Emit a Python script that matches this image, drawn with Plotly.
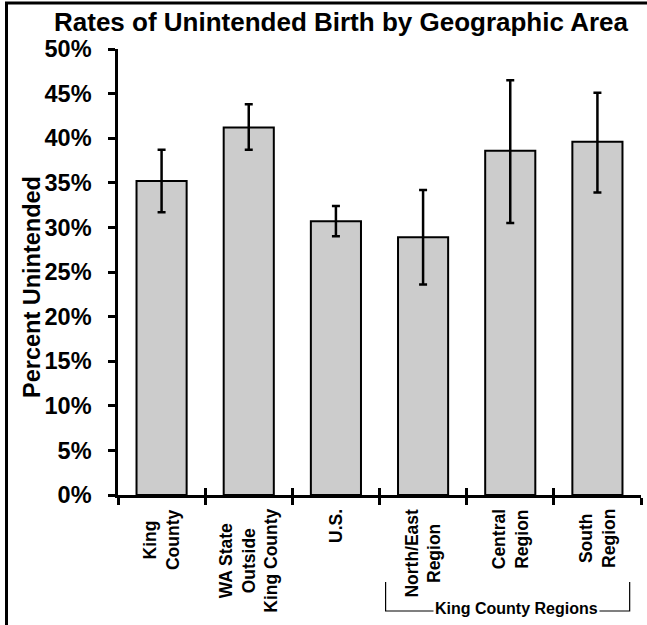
import plotly.graph_objects as go

categories = ["King<br>County", "WA State<br>Outside<br>King County", "U.S.",
              "North/East<br>Region", "Central<br>Region", "South<br>Region"]
values = [35.2, 41.2, 30.7, 28.9, 38.6, 39.6]
err_upper = [38.7, 43.8, 32.4, 34.2, 46.5, 45.1]
err_lower = [31.7, 38.7, 29.0, 23.6, 30.5, 33.9]
y_ticks = [0, 5, 10, 15, 20, 25, 30, 35, 40, 45, 50]
y_tick_text = [f"{v}%" for v in y_ticks]
group_label = "King County Regions"
group_members = [3, 4, 5]

W, H = 647, 625
ML, MR, MT, MB = 118, 6, 49, 130
PW = W - ML - MR
PH = H - MT - MB

FONT = "Liberation Sans, Arial, sans-serif"
x_idx = list(range(len(categories)))
plus = [u - v for u, v in zip(err_upper, values)]
minus = [v - l for v, l in zip(values, err_lower)]

fig = go.Figure()
fig.add_trace(go.Bar(
    x=x_idx, y=values, width=0.575,
    marker=dict(color="#cccccc", line=dict(color="black", width=2)),
    error_y=dict(type="data", symmetric=False, array=plus, arrayminus=minus,
                 color="black", thickness=2.5, width=4),
    showlegend=False, hoverinfo="skip",
))
# invisible trace to carry the second (tick-only) x axis
fig.add_trace(go.Scatter(x=[x_idx[0]], y=[0], xaxis="x2", mode="markers",
                         marker=dict(opacity=0), showlegend=False, hoverinfo="skip"))

bounds = [i - 0.5 for i in range(len(categories) + 1)]
xr = [-0.5, len(categories) - 0.5]

def px_to_px(px):
    return (px - ML) / PW

def py_to_py(py):
    return (MT + PH - py) / PH

annotations = []
for i, lab in enumerate(categories):
    annotations.append(dict(
        x=i, y=0, xref="x", yref="paper", text=lab, showarrow=False,
        textangle=-90, xanchor="center", yanchor="top", yshift=-12, align="center",
        font=dict(family=FONT, size=17.5, color="black", weight="bold")))

annotations.append(dict(
    x=px_to_px(32), y=py_to_py(287), xref="paper", yref="paper",
    text="Percent Unintended", showarrow=False, textangle=-90,
    xanchor="center", yanchor="middle",
    font=dict(family=FONT, size=23.5, color="black", weight="bold")))

# group bracket
gx0 = group_members[0] - 0.43
gx1 = group_members[-1] + 0.37
gy_top = py_to_py(582)
gy_bot = py_to_py(611)
shapes = [
    dict(type="path", xref="x", yref="paper",
         path=f"M {gx0},{gy_top} L {gx0},{gy_bot} L {gx1},{gy_bot} L {gx1},{gy_top}",
         line=dict(color="black", width=1.2)),
    # outer frame (left and top)
    dict(type="line", xref="paper", yref="paper", x0=px_to_px(6.5), x1=px_to_px(6.5),
         y0=py_to_py(2), y1=py_to_py(H + 5), line=dict(color="black", width=3)),
    dict(type="line", xref="paper", yref="paper", x0=px_to_px(5), x1=px_to_px(W + 5),
         y0=py_to_py(3), y1=py_to_py(3), line=dict(color="black", width=3)),
]
annotations.append(dict(
    x=(group_members[0] + group_members[-1]) / 2 + 0.075, y=py_to_py(608),
    xref="x", yref="paper", text=group_label, showarrow=False,
    xanchor="center", yanchor="middle", bgcolor="white", borderpad=1,
    font=dict(family=FONT, size=16, color="black", weight="bold")))

fig.update_layout(
    width=W, height=H,
    margin=dict(l=ML, r=MR, t=MT, b=MB, pad=0),
    paper_bgcolor="white", plot_bgcolor="white",
    title=dict(text="Rates of Unintended Birth by Geographic Area",
               x=341 / W, xref="container", xanchor="center",
               y=1 - 22 / H, yref="container", yanchor="middle",
               font=dict(family=FONT, size=26, color="black", weight="bold")),
    xaxis=dict(range=xr, tickmode="array", tickvals=bounds, ticktext=[""] * len(bounds),
               ticks="outside", ticklen=7, tickwidth=2.5, tickcolor="black",
               showline=True, linecolor="black", linewidth=2.5,
               showgrid=False, zeroline=False, fixedrange=True),
    xaxis2=dict(range=xr, overlaying="x", anchor="y", side="bottom",
                tickmode="array", tickvals=bounds, ticktext=[""] * len(bounds),
                ticks="inside", ticklen=7, tickwidth=2.5, tickcolor="black",
                showline=False, showgrid=False, zeroline=False, showticklabels=False),
    yaxis=dict(range=[0, 50], tickmode="array", tickvals=y_ticks, ticktext=y_tick_text,
               ticks="outside", ticklen=7, tickwidth=2.5, tickcolor="black",
               ticklabelstandoff=12,
               showline=True, linecolor="black", linewidth=2.5,
               showgrid=False, zeroline=False,
               tickfont=dict(family=FONT, size=23.5, color="black", weight="bold")),
    annotations=annotations,
    shapes=shapes,
)

fig.write_html("out.html", config={"displayModeBar": False},
               post_script="document.body.style.margin='0';document.body.style.overflow='hidden';")
